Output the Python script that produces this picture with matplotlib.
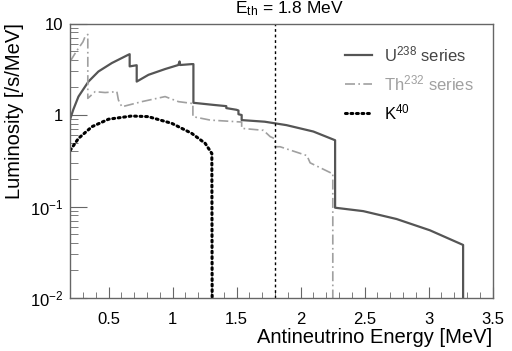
import matplotlib
matplotlib.use('Agg')
import matplotlib.pyplot as plt
from matplotlib.ticker import FixedLocator, MultipleLocator, NullFormatter

plt.rcParams['font.family'] = ['Liberation Sans', 'DejaVu Sans']
plt.rcParams['mathtext.default'] = 'regular'

# U238 series
u_e = [0.2, 0.225, 0.265, 0.343, 0.421, 0.526, 0.655, 0.665, 0.665, 0.72, 0.72,
       0.812, 0.942, 1.045, 1.055, 1.06, 1.15, 1.163, 1.163, 1.32, 1.42, 1.42,
       1.50, 1.515, 1.515, 1.54, 1.54, 1.72, 1.89, 2.10, 2.27, 2.27, 2.49,
       2.75, 3.01, 3.27, 3.27]
u_l = [0.90, 1.15, 1.59, 2.32, 2.99, 3.70, 4.56, 4.62, 3.40, 3.5, 2.32,
       2.75, 3.18, 3.52, 3.85, 3.52, 3.6, 3.6, 1.36, 1.29, 1.25, 1.19,
       1.14, 1.12, 1.02, 1.0, 0.88, 0.845, 0.775, 0.66, 0.53, 0.097, 0.089,
       0.073, 0.055, 0.038, 0.001]

# Th232 series
th_e = [0.2, 0.25, 0.30, 0.317, 0.338, 0.338, 0.395, 0.473, 0.565, 0.577, 0.604,
        0.76, 0.942, 1.046, 1.15, 1.159, 1.159, 1.294, 1.528, 1.54, 1.54, 1.71,
        1.763, 1.80, 1.80, 1.84, 2.05, 2.075, 2.245, 2.252, 2.252]
th_l = [3.85, 5.0, 6.3, 7.2, 7.6, 1.52, 1.80, 1.76, 1.80, 1.46, 1.23,
        1.40, 1.59, 1.40, 1.34, 1.34, 0.96, 0.88, 0.84, 0.84, 0.715, 0.68,
        0.58, 0.55, 0.45, 0.45, 0.36, 0.30, 0.23, 0.23, 0.001]

# K40
k_e = [0.2, 0.265, 0.37, 0.5, 0.68, 0.81, 0.995, 1.15, 1.255, 1.307, 1.311]
k_l = [0.41, 0.555, 0.745, 0.90, 0.975, 0.96, 0.81, 0.63, 0.49, 0.38, 0.001]

e_th = 1.8
ytick_vals = [0.01, 0.1, 1, 10]
ytick_labels = ['$10^{-2}$', '$10^{-1}$', '1', '10']
xtick_vals = [0.5, 1, 1.5, 2, 2.5, 3, 3.5]
xtick_labels = ['0.5', '1', '1.5', '2', '2.5', '3', '3.5']

fig = plt.figure(figsize=(5.12, 3.51), dpi=100)
ax = fig.add_axes([0.137, 0.151, 0.825, 0.782])

ax.plot(u_e, u_l, color='#555555', lw=1.6, label='U$^{238}$ series')
ax.plot(th_e, th_l, color='#a0a0a0', lw=1.2, linestyle=(0, (6, 2, 1, 2)),
        label='Th$^{232}$ series')
ax.plot(k_e, k_l, color='black', lw=2.2, linestyle=(0, (0.6, 1.2)),
        dash_capstyle='round', label='K$^{40}$')
ax.axvline(e_th, color='black', lw=1.0, linestyle=(0, (2, 2)))

ax.set_yscale('log')
ax.set_xlim(0.2, 3.5)
ax.set_ylim(0.01, 10)

ax.yaxis.set_major_locator(FixedLocator(ytick_vals))
ax.set_yticklabels(ytick_labels)
ax.yaxis.set_minor_formatter(NullFormatter())
ax.xaxis.set_major_locator(FixedLocator(xtick_vals))
ax.set_xticklabels(xtick_labels)
ax.xaxis.set_minor_locator(MultipleLocator(0.1))

for s in ax.spines.values():
    s.set_color('#666666')
    s.set_linewidth(1.0)
ax.tick_params(which='both', direction='in', colors='#666666', labelcolor='black',
               top=False, right=False, labelsize=12)
ax.tick_params(axis='x', which='major', length=8, pad=10)
ax.tick_params(axis='x', which='minor', length=4.5)
ax.tick_params(axis='y', which='major', length=12, pad=5)
ax.tick_params(axis='y', which='minor', length=6)

ax.set_xlabel('Antineutrino Energy [MeV]', fontsize=14.5, loc='right', labelpad=1)
ax.set_ylabel('Luminosity [/s/MeV]', fontsize=14.5, loc='top', labelpad=4)

ax.text(1.91, 1.02, 'E$_{th}$ = 1.8 MeV', transform=ax.get_xaxis_transform(),
        ha='center', va='bottom', fontsize=12.5)

leg = ax.legend(loc='upper left', bbox_to_anchor=(0.63, 0.955), frameon=False,
                fontsize=12, handlelength=1.65, handletextpad=0.7,
                labelspacing=0.55, borderpad=0)
for txt, col in zip(leg.get_texts(), ['#444444', '#a0a0a0', 'black']):
    txt.set_color(col)

fig.savefig('out.png', dpi=100)
